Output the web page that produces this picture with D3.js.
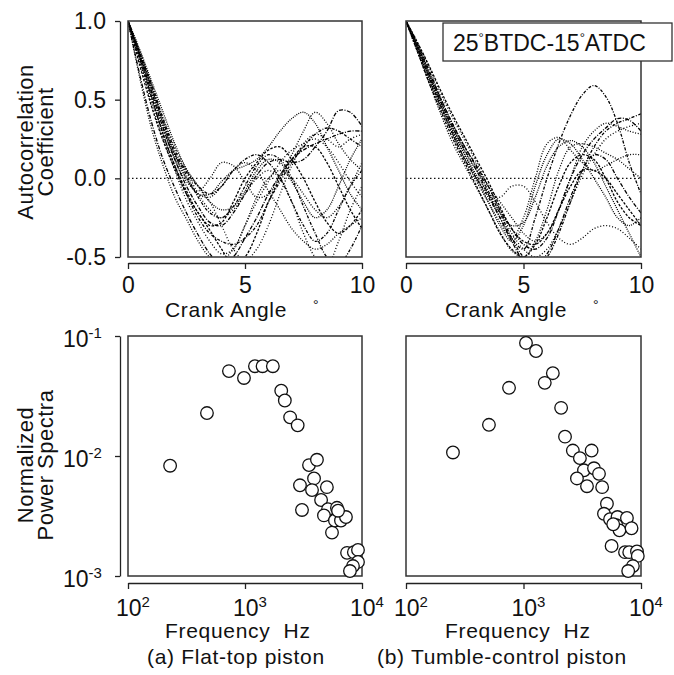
<!DOCTYPE html>
<html>
<head>
<meta charset="utf-8">
<script src="https://cdn.jsdelivr.net/npm/d3@7"></script>
<style>
  body { margin: 0; background: #fff; }
  text { font-family: "Liberation Sans", Arial, Helvetica, sans-serif; fill: #111; }
  .axis path, .axis line { stroke: #222; stroke-width: 1.3; }
  .frame { fill: none; stroke: #333; stroke-width: 1.5; }
  .acf { fill: none; stroke: #000; stroke-width: 1.3; }
  .dot { fill: #fff; stroke: #111; stroke-width: 1.3; }
</style>
</head>
<body>
<div id="chart"></div>
<script>
// Crank angle samples (deg) for the autocorrelation curves
var crankAngle = [0, 0.5, 1, 1.5, 2, 2.5, 3, 3.5, 4, 4.5, 5, 5.5, 6, 6.5, 7, 7.5, 8, 8.5, 9, 9.5, 10];

// (a) Flat-top piston, autocorrelation coefficient per cycle
var flatAcf = [
    [1, .78, .55, .32, .12, -.02, -.08, .0, .1, .08, -.02, -.12, -.1, .02, .15, .3, .42, .35, .22, .12, .05],
    [1, .8, .6, .38, .18, .04, -.05, -.1, -.05, .05, .12, .15, .1, .0, -.15, -.3, -.4, -.35, -.2, -.05, .05],
    [1, .75, .48, .25, .05, -.14, -.28, -.4, -.48, -.45, -.3, -.15, -.02, .1, .18, .22, .25, .2, .1, -.02, -.12],
    [1, .77, .52, .28, .08, -.08, -.22, -.3, -.28, -.15, .0, .1, .18, .2, .12, .0, -.15, -.28, -.35, -.3, -.2],
    [1, .82, .62, .42, .22, .06, -.05, -.15, -.2, -.18, -.08, .05, .12, .1, -.02, -.15, -.25, -.2, -.05, .12, .25],
    [1, .66, .36, .12, -.06, -.22, -.36, -.48, -.55, -.5, -.38, -.25, -.1, .02, .12, .18, .22, .25, .28, .3, .3],
    [1, .79, .57, .34, .14, .0, -.1, -.12, -.05, .05, .1, .05, -.08, -.2, -.32, -.4, -.45, -.42, -.35, -.3, -.25],
    [1, .76, .52, .28, .08, -.1, -.25, -.35, -.4, -.42, -.38, -.3, -.15, -.02, .1, .2, .28, .32, .3, .25, .2],
    [1, .81, .6, .38, .2, .05, -.1, -.2, -.25, -.2, -.1, .0, .05, .0, -.15, -.35, -.5, -.55, -.4, -.2, -.05],
    [1, .72, .46, .24, .06, -.1, -.22, -.33, -.45, -.55, -.5, -.35, -.15, .0, .12, .2, .2, .1, -.05, -.2, -.32],
    [1, .8, .58, .35, .15, .0, -.1, -.1, -.02, .05, .08, .12, .2, .3, .38, .42, .35, .2, .05, -.1, -.2],
    [1, .78, .55, .32, .12, -.05, -.18, -.28, -.3, -.22, -.1, .02, .1, .12, .1, .12, .2, .3, .43, .42, .33],
    [1, .64, .32, .08, -.12, -.26, -.4, -.5, -.52, -.45, -.3, -.12, .0, .05, .0, -.1, -.2, -.25, -.18, -.05, .1],
    [1, .79, .58, .36, .16, .02, -.12, -.22, -.25, -.18, -.05, .08, .15, .12, .0, -.18, -.35, -.5, -.55, -.45, -.3],
    [1, .74, .5, .3, .15, .05, -.05, -.15, -.3, -.45, -.52, -.45, -.3, -.1, .08, .22, .28, .25, .2, .25, .28]
];

// (b) Tumble-control piston, autocorrelation coefficient per cycle
var tumbleAcf = [
    [1, .84, .66, .48, .32, .17, .05, -.05, -.15, -.25, -.35, -.4, -.35, -.2, .0, .2, .3, .35, .33, .3, .28],
    [1, .82, .63, .45, .28, .12, .0, -.12, -.25, -.38, -.45, -.25, .0, .22, .4, .53, .59, .52, .35, .1, -.1],
    [1, .86, .7, .53, .38, .24, .1, -.05, -.2, -.35, -.45, -.5, -.45, -.32, -.15, .02, .15, .25, .3, .33, .35],
    [1, .8, .6, .42, .25, .1, -.05, -.2, -.35, -.45, -.5, -.42, -.25, -.05, .1, .15, .12, .0, -.15, -.25, -.3],
    [1, .83, .65, .47, .3, .15, .0, -.15, -.3, -.4, -.3, -.05, .15, .25, .22, .12, .0, -.12, -.25, -.3, -.25],
    [1, .85, .68, .5, .34, .2, .08, -.05, -.2, -.32, -.42, -.45, -.38, -.2, .0, .15, .25, .32, .38, .37, .3],
    [1, .81, .62, .44, .27, .12, -.02, -.15, -.28, -.38, -.25, .0, .22, .26, .18, .1, .05, .08, .12, .15, .15],
    [1, .84, .67, .5, .34, .2, .07, -.08, -.22, -.38, -.5, -.55, -.5, -.35, -.15, .05, .2, .3, .35, .38, .41],
    [1, .8, .62, .44, .28, .13, .0, -.1, -.12, -.05, -.05, -.15, -.28, -.38, -.42, -.38, -.32, -.3, -.32, -.38, -.45],
    [1, .86, .71, .55, .4, .26, .12, -.02, -.18, -.32, -.4, -.42, -.35, -.2, -.05, .05, .05, .0, -.1, -.2, -.3],
    [1, .82, .64, .46, .3, .15, .02, -.1, -.22, -.3, -.28, -.12, .08, .2, .24, .2, .1, -.05, -.2, -.35, -.5],
    [1, .83, .65, .48, .32, .18, .05, -.1, -.25, -.4, -.52, -.55, -.48, -.32, -.12, .05, .15, .12, .0, -.12, -.22],
    [1, .8, .6, .4, .22, .08, -.06, -.2, -.34, -.46, -.5, -.4, -.2, .05, .2, .22, .2, .16, .12, .06, .0]
];

// Power spectra points (Hz, normalized power)
var flatFreq = [229, 473, 729, 980, 1216, 1413, 1730, 2040, 2190, 2430, 2820, 3524, 4120, 2950, 3890, 3740, 5010,
    3070, 4470, 5120, 4730, 6110, 5870, 5540, 6610, 7290, 6240, 7450, 8520, 9240, 9240, 8370, 7890];
var flatPower = [0.0083, 0.0228, 0.051, 0.0447, 0.056, 0.056, 0.056, 0.035, 0.029, 0.021, 0.018, 0.0084, 0.0093,
    0.0057, 0.0065, 0.0052, 0.0055, 0.00355, 0.0043, 0.0036, 0.0032, 0.0037, 0.0029, 0.0023, 0.0029, 0.0031,
    0.0035, 0.00156, 0.00158, 0.00165, 0.00131, 0.00121, 0.0011];

var tumbleFreq = [251, 508, 753, 1050, 1277, 1777, 1517, 2090, 2256, 2630, 3020, 3800, 3270, 2850, 3470, 3980,
    4390, 4670, 5130, 4840, 5450, 6310, 7590, 6170, 6560, 8310, 5620, 7310, 7940, 9240, 9390, 8530, 7780, 5800];
var tumblePower = [0.0107, 0.0182, 0.037, 0.0875, 0.075, 0.049, 0.0407, 0.0252, 0.0145, 0.0111, 0.0096, 0.0111,
    0.0076, 0.0065, 0.0056, 0.0079, 0.0071, 0.0055, 0.0040, 0.0033, 0.00297, 0.0031, 0.00305, 0.00265, 0.0024,
    0.0025, 0.00178, 0.00158, 0.00158, 0.0016, 0.00147, 0.00121, 0.0011, 0.0027];

// Tick values
var acfTicks = [-0.5, 0, 0.5, 1];
var acfTickLabels = ["-0.5", "0.0", "0.5", "1.0"];
var angleTicks = [0, 5, 10];
var freqTicks = [1e2, 1e3, 1e4];
var freqExp = ["2", "3", "4"];
var powerTicks = [1e-3, 1e-2, 1e-1];
var powerExp = ["-3", "-2", "-1"];

var width = 674;
var height = 675;

var svg = d3.select("#chart")
    .append("svg")
    .attr("width", width)
    .attr("height", height);

// panel boxes
var colX = [[128, 362], [406, 641]];
var topY = [21, 257];
var botY = [336, 576];

var dashes = ["1,1.6", "3,1.5,1,1.5", "1,2", "2.5,1.5", "1,1.2", "4,1.5,1,1.5"];

// "10" with a raised exponent
function powLabel(sel, exp) {
    sel.append("tspan").text("10");
    sel.append("tspan")
        .attr("dy", -9)
        .attr("font-size", 15)
        .text(exp);
}

// Top row: autocorrelation
function acfPanel(idx, curves) {
    var x0 = colX[idx][0], x1 = colX[idx][1];
    var xScale = d3.scaleLinear().domain([0, 10]).range([x0, x1]);
    var yScale = d3.scaleLinear().domain([-0.5, 1]).range([topY[1], topY[0]]);

    var clipId = "clipAcf" + idx;
    svg.append("clipPath").attr("id", clipId)
        .append("rect")
        .attr("x", x0).attr("y", topY[0])
        .attr("width", x1 - x0).attr("height", topY[1] - topY[0]);

    var g = svg.append("g").attr("clip-path", "url(#" + clipId + ")");

    // zero reference
    g.append("line")
        .attr("x1", x0).attr("x2", x1)
        .attr("y1", yScale(0)).attr("y2", yScale(0))
        .attr("stroke", "#111")
        .attr("stroke-width", 1.1)
        .attr("stroke-dasharray", "1.5,2.5");

    var line = d3.line()
        .x(function(d, i) { return xScale(crankAngle[i]); })
        .y(function(d) { return yScale(d); })
        .curve(d3.curveCatmullRom);

    g.selectAll("path.acf")
        .data(curves)
        .enter()
        .append("path")
        .attr("class", "acf")
        .attr("d", line)
        .attr("stroke-dasharray", function(d, i) { return dashes[i % dashes.length]; });

    svg.append("rect")
        .attr("class", "frame")
        .attr("x", x0).attr("y", topY[0])
        .attr("width", x1 - x0).attr("height", topY[1] - topY[0]);

    var xAxis = d3.axisBottom(xScale).tickValues(angleTicks).tickSize(6).tickSizeOuter(0).tickPadding(8);
    var gx = svg.append("g")
        .attr("class", "axis")
        .attr("transform", "translate(0," + (topY[1] + 6) + ")")
        .call(xAxis);
    gx.selectAll("text").attr("font-size", 23).attr("fill", "#111")
        .style("font-family", "Liberation Sans, Arial, sans-serif");

    if (idx === 0) {
        var yAxis = d3.axisLeft(yScale).tickValues(acfTicks).tickSize(5).tickSizeOuter(0).tickPadding(9)
            .tickFormat(function(d, i) { return acfTickLabels[i]; });
        var gy = svg.append("g")
            .attr("class", "axis")
            .attr("transform", "translate(" + (x0 - 8) + ",0)")
            .call(yAxis);
        gy.selectAll("text").attr("font-size", 23).attr("fill", "#111")
            .style("font-family", "Liberation Sans, Arial, sans-serif");
    }

    // axis title
    svg.append("text")
        .attr("x", idx === 0 ? 165 : 445)
        .attr("y", 317)
        .attr("font-size", 21)
        .attr("letter-spacing", 0.7)
        .text("Crank Angle");
    svg.append("text")
        .attr("x", idx === 0 ? 313 : 593)
        .attr("y", 310)
        .attr("font-size", 14)
        .text("°");
}

// Bottom row: normalized power spectra
function psdPanel(idx, freq, power) {
    var x0 = colX[idx][0], x1 = colX[idx][1];
    var xScale = d3.scaleLog().domain([1e2, 1e4]).range([x0, x1]);
    var yScale = d3.scaleLog().domain([1e-3, 1e-1]).range([botY[1], botY[0]]);

    svg.append("rect")
        .attr("class", "frame")
        .attr("x", x0).attr("y", botY[0])
        .attr("width", x1 - x0).attr("height", botY[1] - botY[0]);

    svg.append("g")
        .selectAll("circle")
        .data(freq)
        .enter()
        .append("circle")
        .attr("class", "dot")
        .attr("cx", function(d) { return xScale(d); })
        .attr("cy", function(d, i) { return yScale(power[i]); })
        .attr("r", 6.3);

    var xAxis = d3.axisBottom(xScale).tickValues(freqTicks).tickSize(6).tickSizeOuter(0).tickFormat("");
    var gx = svg.append("g")
        .attr("class", "axis")
        .attr("transform", "translate(0," + (botY[1] + 7) + ")")
        .call(xAxis);
    gx.selectAll(".tick").each(function(d, i) {
        var lbl = d3.select(this).append("text")
            .attr("x", -12.5)
            .attr("y", 33)
            .attr("text-anchor", "start")
            .attr("font-size", 23)
            .attr("fill", "#111");
        powLabel(lbl, freqExp[i]);
    });

    if (idx === 0) {
        var yAxis = d3.axisLeft(yScale).tickValues(powerTicks).tickSize(5).tickSizeOuter(0).tickFormat("");
        var gy = svg.append("g")
            .attr("class", "axis")
            .attr("transform", "translate(" + (x0 - 8) + ",0)")
            .call(yAxis);
        gy.selectAll(".tick").each(function(d, i) {
            var lbl = d3.select(this).append("text")
                .attr("x", -57)
                .attr("y", 10)
                .attr("text-anchor", "start")
                .attr("font-size", 23)
                .attr("fill", "#111");
            powLabel(lbl, powerExp[i]);
        });
    }

    svg.append("text")
        .attr("x", idx === 0 ? 165 : 445)
        .attr("y", 638)
        .attr("font-size", 21)
        .attr("letter-spacing", 0.7)
        .style("white-space", "pre")
        .text("Frequency  Hz");
}

acfPanel(0, flatAcf);
acfPanel(1, tumbleAcf);
psdPanel(0, flatFreq, flatPower);
psdPanel(1, tumbleFreq, tumblePower);

// Y axis titles
function yTitle(lines, cy) {
    lines.forEach(function(s, i) {
        svg.append("text")
            .attr("transform", "translate(" + (33 + i * 20) + "," + cy + ")rotate(-90)")
            .attr("text-anchor", "middle")
            .attr("font-size", 22)
            .attr("letter-spacing", 0.5)
            .text(s);
    });
}
yTitle(["Autocorrelation", "Coefficient"], 142);
yTitle(["Normalized", "Power Spectra"], 465);

// piston captions
svg.append("text").attr("x", 147).attr("y", 664).attr("font-size", 21).attr("letter-spacing", 0.7)
    .text("(a) Flat-top piston");
svg.append("text").attr("x", 377).attr("y", 664).attr("font-size", 21).attr("letter-spacing", 0.7)
    .text("(b) Tumble-control piston");

// legend box
svg.append("rect")
    .attr("x", 443).attr("y", 23)
    .attr("width", 229).attr("height", 38)
    .attr("fill", "#fff")
    .attr("stroke", "#333")
    .attr("stroke-width", 1.3);
var leg = svg.append("text").attr("x", 453).attr("y", 51).attr("font-size", 23);
leg.append("tspan").text("25");
leg.append("tspan").attr("font-size", 13).attr("dy", -9).text("°");
leg.append("tspan").attr("dy", 9).text("BTDC-15");
leg.append("tspan").attr("font-size", 13).attr("dy", -9).text("°");
leg.append("tspan").attr("dy", 9).text("ATDC");
</script>
</body>
</html>
